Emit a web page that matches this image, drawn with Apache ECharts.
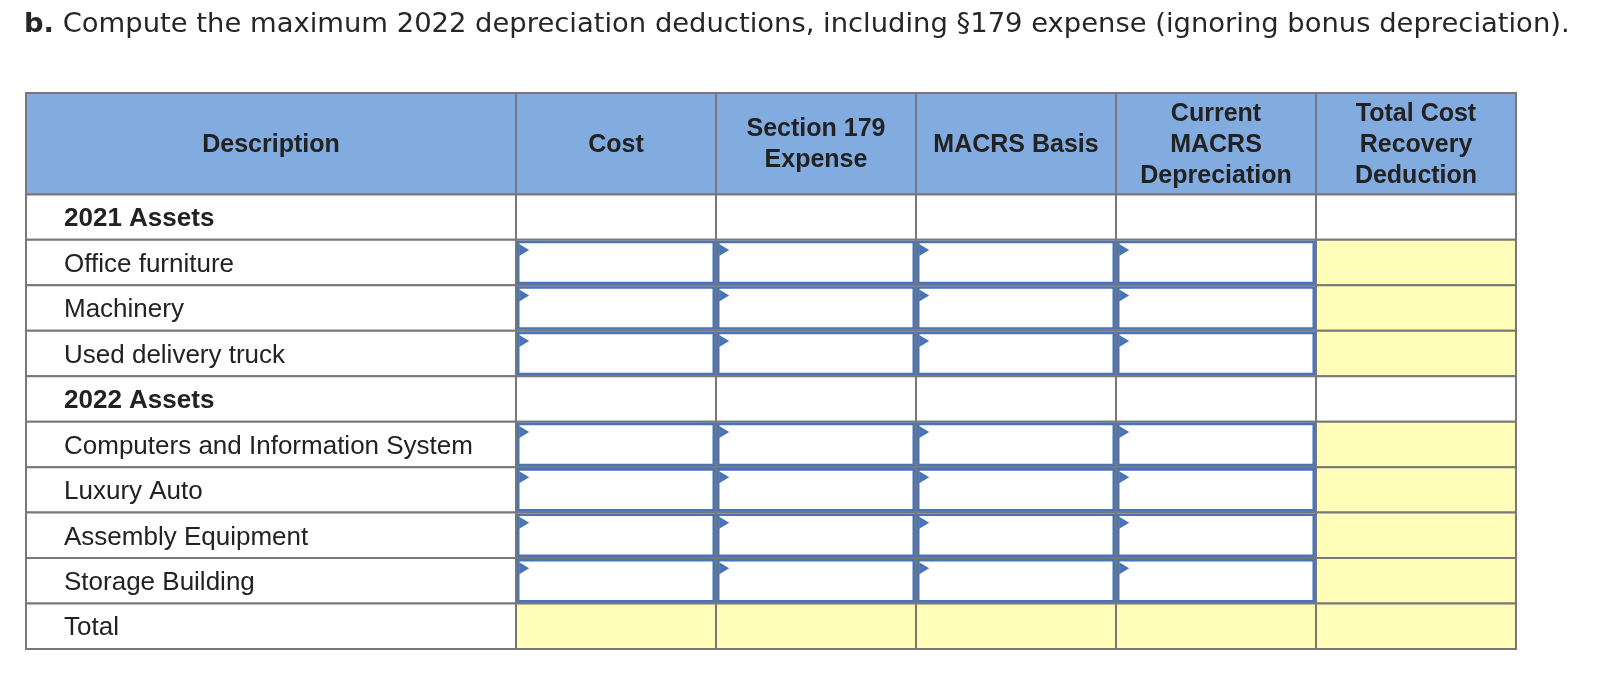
<!DOCTYPE html>
<html>
<head>
<meta charset="utf-8">
<script src="https://cdn.jsdelivr.net/npm/echarts@6/dist/echarts.min.js"></script>
<style>
  html, body { margin: 0; padding: 0; background: #fff; }
  #chart { width: 1604px; height: 698px; }
</style>
</head>
<body>
<div id="chart"></div>
<script>
// ---- data ----
const titleLead = 'b.';
const titleText = 'Compute the maximum 2022 depreciation deductions, including §179 expense (ignoring bonus depreciation).';
const columnHeaders = ['Description', 'Cost', 'Section 179\nExpense', 'MACRS Basis', 'Current\nMACRS\nDepreciation', 'Total Cost\nRecovery\nDeduction'];
const rowLabels = ['2021 Assets', 'Office furniture', 'Machinery', 'Used delivery truck', '2022 Assets',
  'Computers and Information System', 'Luxury Auto', 'Assembly Equipment', 'Storage Building', 'Total'];
const rowKinds = ['section', 'input', 'input', 'input', 'section', 'input', 'input', 'input', 'input', 'total'];

// ---- layout (not data) ----
const DESC_SPAN = 2.45;   // description column width relative to a value column
const HEAD_SPAN = 2.23;   // header row height relative to a body row
const nCols = columnHeaders.length;
const X_MAX = DESC_SPAN + (nCols - 1);
const Y_MAX = HEAD_SPAN + rowLabels.length;
const FONT = '"Liberation Sans", Arial, sans-serif';
const C_GRID = '#787878', C_HEAD = '#82abdf', C_YEL = '#fffdb7', C_BLUE = '#4a74b6', C_TXT = '#222';

function colStart(c) { return c === 0 ? 0 : DESC_SPAN + (c - 1); }
function colEnd(c) { return c === 0 ? DESC_SPAN : DESC_SPAN + c; }
function rowStart(r) { return r < 0 ? 0 : HEAD_SPAN + r; }
function rowEnd(r) { return r < 0 ? HEAD_SPAN : HEAD_SPAN + r + 1; }

const cellData = [];
const inputData = [];
for (let r = -1; r < rowLabels.length; r++) {
  for (let c = 0; c < nCols; c++) {
    cellData.push([c, r]);
    if (r >= 0 && rowKinds[r] === 'input' && c >= 1 && c <= 4) inputData.push([c, r]);
  }
}

function cellRect(api) {
  const c = api.value(0), r = api.value(1);
  const p0 = api.coord([colStart(c), rowStart(r)]);
  const p1 = api.coord([colEnd(c), rowEnd(r)]);
  return { c, r, x: p0[0], y: p0[1], w: p1[0] - p0[0], h: p1[1] - p0[1] };
}

function renderCell(params, api) {
  const { c, r, x, y, w, h } = cellRect(api);
  let fill = '#fff';
  if (r < 0) fill = C_HEAD;
  else if (c > 0 && (rowKinds[r] === 'total' || (rowKinds[r] === 'input' && c === nCols - 1))) fill = C_YEL;
  const children = [{
    type: 'rect',
    shape: { x, y, width: w, height: h },
    style: { fill, stroke: C_GRID, lineWidth: 2 }
  }];
  if (r < 0) {
    children.push({
      type: 'text',
      style: {
        x: x + w / 2, y: y + h / 2 + 1, text: columnHeaders[c],
        align: 'center', verticalAlign: 'middle',
        font: 'bold 25px ' + FONT, lineHeight: 31, fill: C_TXT
      }
    });
  } else if (c === 0) {
    children.push({
      type: 'text',
      style: {
        x: x + 38, y: y + h / 2 + 2, text: rowLabels[r],
        align: 'left', verticalAlign: 'middle',
        font: (rowKinds[r] === 'section' ? 'bold ' : '') + '26px ' + FONT, fill: C_TXT
      }
    });
  }
  return { type: 'group', children };
}

function renderInput(params, api) {
  const { x, y, w, h } = cellRect(api);
  const bx = x + 2.2, by = y + 2.2, bw = w - 4.4, bh = h - 4.4;
  return {
    type: 'group',
    children: [
      { type: 'rect', shape: { x: bx, y: by, width: bw, height: bh },
        style: { fill: '#fff', stroke: C_BLUE, lineWidth: 2.6 } },
      { type: 'polygon', shape: { points: [[bx + 1, by + 2], [bx + 11, by + 8], [bx + 1, by + 14]] },
        style: { fill: C_BLUE } }
    ]
  };
}

const chart = echarts.init(document.getElementById('chart'), null, { renderer: 'canvas' });
chart.setOption({
  animation: false,
  backgroundColor: '#fff',
  title: {
    text: '{b|' + titleLead + '} ' + titleText,
    left: 19, top: 6,
    textStyle: {
      fontFamily: '"DejaVu Sans", sans-serif', fontSize: 27.4, fontWeight: 'normal', color: '#262626',
      rich: { b: { fontFamily: '"DejaVu Sans", sans-serif', fontSize: 27.4, fontWeight: 'bold', color: '#262626' } }
    }
  },
  grid: { left: 26, top: 93, width: 1490, height: 556 },
  xAxis: { type: 'value', min: 0, max: X_MAX, show: false },
  yAxis: { type: 'value', min: 0, max: Y_MAX, inverse: true, show: false },
  series: [
    { type: 'custom', name: 'cells', data: cellData, renderItem: renderCell, silent: true, clip: false, z: 2 },
    { type: 'custom', name: 'inputs', data: inputData, renderItem: renderInput, silent: true, clip: false, z: 3 }
  ]
});
</script>
</body>
</html>
